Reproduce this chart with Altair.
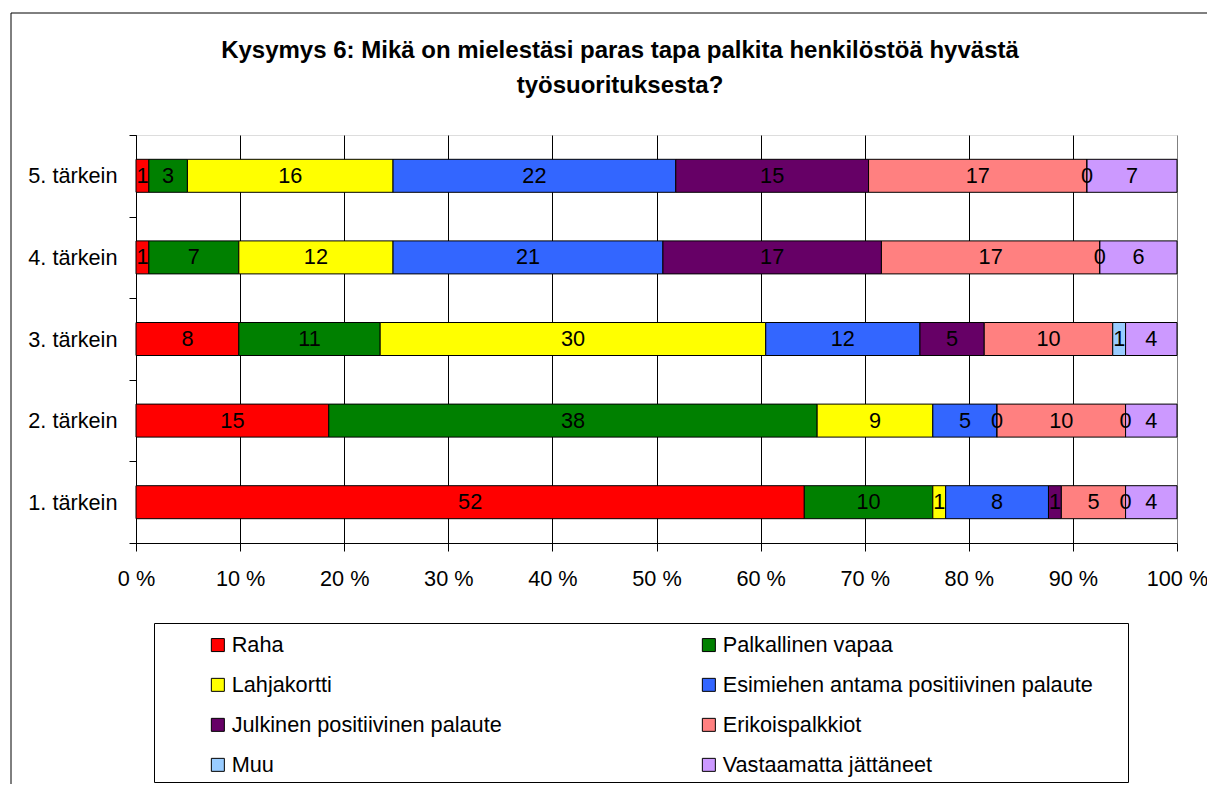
import altair as alt
import pandas as pd

FONT = "Liberation Sans"
FS = 21.7

TITLE_LINES = [
    "Kysymys 6: Mikä on mielestäsi paras tapa palkita henkilöstöä hyvästä",
    "työsuorituksesta?",
]
ROWS = ["5. tärkein", "4. tärkein", "3. tärkein", "2. tärkein", "1. tärkein"]
CATEGORIES = [
    "Raha",
    "Palkallinen vapaa",
    "Lahjakortti",
    "Esimiehen antama positiivinen palaute",
    "Julkinen positiivinen palaute",
    "Erikoispalkkiot",
    "Muu",
    "Vastaamatta jättäneet",
]
COLORS = ["#FF0000", "#008000", "#FFFF00", "#3366FF", "#660066", "#FF8080", "#99CCFF", "#CC99FF"]

VALUES_1 = [52, 10, 1, 8, 1, 5, 0, 4]
VALUES_2 = [15, 38, 9, 5, 0, 10, 0, 4]
VALUES_3 = [8, 11, 30, 12, 5, 10, 1, 4]
VALUES_4 = [1, 7, 12, 21, 17, 17, 0, 6]
VALUES_5 = [1, 3, 16, 22, 15, 17, 0, 7]

X_TICKS = [0.0, 0.1, 0.2, 0.3, 0.4, 0.5, 0.6, 0.7, 0.8, 0.9, 1.0]

series = {
    "1. tärkein": VALUES_1,
    "2. tärkein": VALUES_2,
    "3. tärkein": VALUES_3,
    "4. tärkein": VALUES_4,
    "5. tärkein": VALUES_5,
}
records = []
for row, vals in series.items():
    for i, (cat, v) in enumerate(zip(CATEGORIES, vals)):
        records.append({"row": row, "cat": cat, "order": i, "value": v})
df = pd.DataFrame(records)

one = pd.DataFrame({"k": [0]})

base = alt.Chart(df).transform_stack(
    stack="value",
    groupby=["row"],
    as_=["x0", "x1"],
    offset="normalize",
    sort=[alt.SortField(field="order", order="ascending")],
).transform_calculate(mid="(datum.x0 + datum.x1) / 2")

y_enc = alt.Y(
    "row:N",
    scale=alt.Scale(domain=ROWS, paddingInner=0, paddingOuter=0),
    axis=alt.Axis(
        title=None,
        tickBand="extent",
        tickSize=7,
        tickColor="black",
        domainColor="black",
        labelFontSize=FS,
        labelFont=FONT,
        labelColor="black",
        labelPadding=12,
        grid=False,
    ),
)

x_scale = alt.Scale(domain=[0, 1], nice=False)

bars = base.mark_bar(size=33, stroke="black", strokeWidth=1).encode(
    x=alt.X(
        "x0:Q",
        scale=x_scale,
        title=None,
        axis=alt.Axis(
            title=None,
            values=X_TICKS,
            labelExpr="round(datum.value * 100) + ' %'",
            grid=True,
            gridColor={"condition": {"test": "datum.value >= 0.999", "value": "#808080"}, "value": "black"},
            gridWidth=1,
            tickSize=8,
            tickColor="black",
            domainColor="black",
            labelFontSize=FS,
            labelFont=FONT,
            labelColor="black",
            labelPadding=17,
            labelFlush=False,
            labelOverlap=False,
        ),
    ),
    x2="x1:Q",
    y=y_enc,
    color=alt.Color(
        "cat:N",
        scale=alt.Scale(domain=CATEGORIES, range=COLORS),
        legend=alt.Legend(
            title=None,
            orient="none",
            direction="horizontal",
            legendX=71,
            legendY=499,
            columns=2,
            padding=0,
            symbolType="square",
            symbolSize=169,
            symbolStrokeColor="black",
            symbolStrokeWidth=1,
            symbolOpacity=1,
            labelFontSize=FS,
            labelFont=FONT,
            labelColor="black",
            labelLimit=600,
            labelOffset=3,
            rowPadding=17,
            columnPadding=196,
        ),
        sort=CATEGORIES,
    ),
    order=alt.Order("order:Q"),
)

labels = base.mark_text(font=FONT, fontSize=FS, color="black", align="center", baseline="middle").encode(
    x=alt.X("mid:Q", scale=x_scale, title=None),
    y=alt.Y("row:N", scale=alt.Scale(domain=ROWS, paddingInner=0, paddingOuter=0)),
    text=alt.Text("value:Q"),
)

frame_left = alt.Chart(one).mark_rule(color="black", strokeWidth=1).encode(
    x=alt.value(-125), y=alt.value(-122), y2=alt.value(700)
)
frame_top = alt.Chart(one).mark_rule(color="black", strokeWidth=1).encode(
    x=alt.value(-125), x2=alt.value(1090), y=alt.value(-122)
)
legend_box = alt.Chart(one).mark_rect(fillOpacity=0, stroke="black", strokeWidth=1).encode(
    x=alt.value(18.5), x2=alt.value(992.5), y=alt.value(488.5), y2=alt.value(647.5)
)
title_text = alt.Chart(one).mark_text(
    font=FONT, fontSize=24, fontWeight="bold", color="black", align="center", baseline="alphabetic", lineHeight=35.6
).encode(
    x=alt.value(484), y=alt.value(-77.3), text=alt.value(TITLE_LINES)
)

chart = (
    alt.layer(frame_left, frame_top, bars, labels, legend_box, title_text)
    .properties(
        width=1041,
        height=408,
        autosize=alt.AutoSizeParams(type="none"),
        padding={"left": 128, "top": 127, "right": 30, "bottom": 241},
    )
    .configure_view(fill="#C0C0C0", stroke="#808080", strokeWidth=1)
    .configure(font=FONT)
)

chart.save("out.html", embed_options={"renderer": "svg", "actions": False})
